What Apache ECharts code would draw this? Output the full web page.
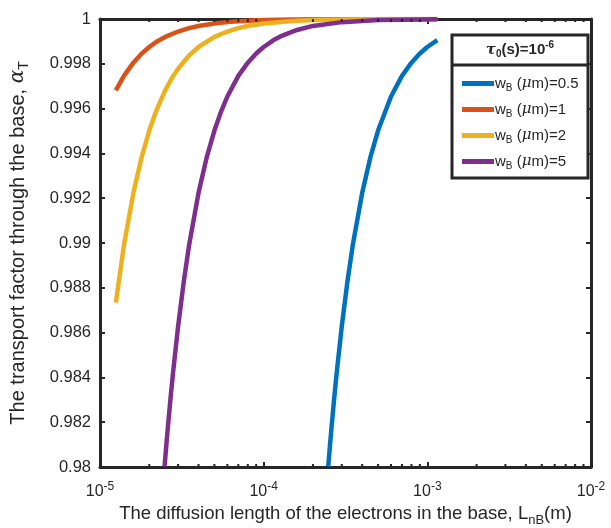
<!DOCTYPE html>
<html><head><meta charset="utf-8">
<script src="https://cdn.jsdelivr.net/npm/echarts@6/dist/echarts.min.js"></script>
<style>html,body{margin:0;padding:0;background:#fff}#c{width:611px;height:528px}</style>
</head><body><div id="c"></div>
<script>
// ---- data ----
const seriesLabels = ['0.5', '1', '2', '5'];
const xTickLabels = ['10^-5', '10^-4', '10^-3', '10^-2'];
const yTicks = [0.98, 0.982, 0.984, 0.986, 0.988, 0.99, 0.992, 0.994, 0.996, 0.998, 1];

const blueL = [2.48e-4, 2.55e-4, 2.6e-4, 2.7e-4, 2.8e-4, 3e-4, 3.25e-4, 3.5e-4, 4e-4, 4.5e-4, 5e-4, 6e-4, 7e-4, 8e-4, 9e-4, 1e-3, 1.15e-3];
const blueA = [0.98002, 0.98108, 0.98180, 0.98310, 0.98427, 0.98627, 0.98828, 0.98989, 0.99224, 0.99386, 0.99502, 0.99654, 0.99746, 0.99805, 0.99846, 0.99875, 0.99906];

const orangeL = [1.25e-5, 1.4e-5, 1.6e-5, 1.8e-5, 2e-5, 2.2e-5, 2.5e-5, 3e-5, 3.5e-5, 4e-5, 5e-5, 6e-5, 7e-5, 1e-4, 2e-4, 5e-4, 1.15e-3];
const orangeA = [0.99681, 0.99746, 0.99805, 0.99846, 0.99875, 0.99897, 0.9992, 0.99944, 0.99959, 0.99969, 0.9998, 0.99986, 0.9999, 0.99995, 0.99999, 1.0, 1.0];

const yellowL = [1.25e-5, 1.4e-5, 1.6e-5, 1.8e-5, 2e-5, 2.2e-5, 2.5e-5, 2.8e-5, 3e-5, 3.5e-5, 4e-5, 5e-5, 6e-5, 7e-5, 8e-5, 1e-4, 1.5e-4, 2e-4, 3e-4, 5e-4, 1.15e-3];
const yellowA = [0.98734, 0.98989, 0.99224, 0.99386, 0.99502, 0.99588, 0.99681, 0.99746, 0.99778, 0.99837, 0.99875, 0.9992, 0.99944, 0.99959, 0.99969, 0.9998, 0.99991, 0.99995, 0.99998, 0.99999, 1.0];

const purpleL = [2.48e-5, 2.55e-5, 2.6e-5, 2.7e-5, 2.8e-5, 3e-5, 3.25e-5, 3.5e-5, 4e-5, 4.5e-5, 5e-5, 5.5e-5, 6e-5, 7e-5, 8e-5, 9e-5, 1e-4, 1.15e-4, 1.3e-4, 1.6e-4, 2e-4, 3e-4, 5e-4, 7e-4, 1.15e-3];
const purpleA = [0.98002, 0.98108, 0.98180, 0.98310, 0.98427, 0.98627, 0.98828, 0.98989, 0.99224, 0.99386, 0.99502, 0.99588, 0.99654, 0.99746, 0.99805, 0.99846, 0.99875, 0.99906, 0.99926, 0.99951, 0.99969, 0.99986, 0.99995, 0.99997, 0.99999];

// ---- chart ----
const FONT = 'Liberation Sans, Arial, Helvetica, sans-serif';
const AX = '#262626';
const colors = ['#0072BD', '#D95319', '#EDB120', '#7E2F8E'];
const zip = (a, b) => a.map((v, i) => [v, b[i]]);
const seriesData = [zip(blueL, blueA), zip(orangeL, orangeA), zip(yellowL, yellowA), zip(purpleL, purpleA)];
const names = seriesLabels.map(s => 'wB=' + s);

const chart = echarts.init(document.getElementById('c'), null, {renderer: 'canvas'});

const axisCommonY = {
  type: 'value', min: 0.98, max: 1, interval: 0.002,
  axisLine: {show: true, lineStyle: {color: AX, width: 3}},
  axisTick: {show: true, inside: true, length: 5, lineStyle: {color: AX, width: 2}},
  splitLine: {show: false}
};
const axisCommonX = {
  type: 'log', logBase: 10, min: 1e-5, max: 1e-2,
  axisLine: {show: true, lineStyle: {color: AX, width: 3}},
  axisTick: {show: true, inside: true, length: 5, lineStyle: {color: AX, width: 2}},
  splitLine: {show: false}
};

const option = {
  animation: false,
  backgroundColor: '#fff',
  textStyle: {fontFamily: FONT},
  grid: {left: 100, right: 20, top: 19, bottom: 61, containLabel: false, outerBoundsMode: 'none'},
  xAxis: [
    Object.assign({}, axisCommonX, {
      position: 'bottom',
      name: 'The diffusion length of the electrons in the base, L{sub|nB}(m)',
      nameLocation: 'middle', nameGap: 34,
      nameTextStyle: {fontSize: 18.5, color: AX, fontFamily: FONT,
        rich: {sub: {fontSize: 13, color: AX, fontFamily: FONT, padding: [12, 0, 0, 0]}}},
      axisLabel: {
        margin: 14, color: AX, fontSize: 16, fontFamily: FONT,
        formatter: v => { const e = Math.round(Math.log10(v)); return '{b|10}{s|' + e + '}'; },
        rich: {b: {fontSize: 16, color: AX, fontFamily: FONT},
               s: {fontSize: 12, color: AX, fontFamily: FONT, padding: [0, 0, 10, 0]}}
      }
    }),
    Object.assign({}, axisCommonX, {position: 'top', axisLabel: {show: false}})
  ],
  yAxis: [
    Object.assign({}, axisCommonY, {
      position: 'left',
      name: 'The transport factor through the base, {i|α}{sub|T}',
      nameLocation: 'middle', nameGap: 69,
      nameTextStyle: {fontSize: 20, color: AX, fontFamily: FONT,
        rich: {i: {fontSize: 20, color: AX, fontStyle: 'italic', fontFamily: 'DejaVu Serif'},
               sub: {fontSize: 14, color: AX, fontFamily: FONT, padding: [12, 0, 0, 0]}}},
      axisLabel: {margin: 9, color: AX, fontSize: 16.5, fontFamily: FONT,
        formatter: v => String(parseFloat(v.toFixed(3)))}
    }),
    Object.assign({}, axisCommonY, {position: 'right', axisLabel: {show: false}})
  ],
  legend: {
    show: true, orient: 'vertical', left: 457, top: 71, itemGap: 9,
    itemWidth: 32, itemHeight: 5, icon: 'rect', z: 10,
    data: names,
    formatter: n => '{w|w}{sub|B} {p|(}{mu|μ}{p|m)=' + n.split('=')[1] + '}',
    textStyle: {fontSize: 15, color: AX, fontFamily: FONT, padding: [0, 0, 0, -4],
      rich: {w: {fontSize: 15, color: AX, fontFamily: FONT},
             sub: {fontSize: 10, color: AX, fontFamily: FONT, padding: [9, 0, 0, 0]},
             p: {fontSize: 15, color: AX, fontFamily: FONT},
             mu: {fontSize: 15, color: AX, fontStyle: 'italic', fontFamily: 'DejaVu Serif'}}}
  },
  series: seriesData.map((d, i) => ({
    type: 'line', name: names[i], data: d, xAxisIndex: 0, yAxisIndex: 0,
    showSymbol: false, smooth: false, clip: true,
    lineStyle: {color: colors[i], width: 4.5, join: 'round'}, itemStyle: {color: colors[i]},
    z: 2
  }))
};
chart.setOption(option);

// minor log ticks + legend box, positioned through the axis scale
const g = [];
const yBot = chart.convertToPixel({yAxisIndex: 0}, 0.98);
const yTop = chart.convertToPixel({yAxisIndex: 0}, 1);
for (let e = -5; e < -2; e++) {
  for (let m = 2; m <= 9; m++) {
    const x = chart.convertToPixel({xAxisIndex: 0}, m * Math.pow(10, e));
    g.push({type: 'line', z: 5, shape: {x1: x, y1: yBot, x2: x, y2: yBot - 3}, style: {stroke: AX, lineWidth: 2}});
    g.push({type: 'line', z: 5, shape: {x1: x, y1: yTop, x2: x, y2: yTop + 3}, style: {stroke: AX, lineWidth: 2}});
  }
}
g.push({type: 'rect', z: 1, shape: {x: 452, y: 35, width: 136, height: 143}, style: {fill: '#fff', stroke: AX, lineWidth: 3}});
g.push({type: 'line', z: 1, shape: {x1: 452, y1: 65, x2: 588, y2: 65}, style: {stroke: AX, lineWidth: 3}});
g.push({type: 'text', z: 3, x: 520, y: 50, style: {
  text: '{t|τ}{s|0}{b|(s)=10}{e|-6}', align: 'center', verticalAlign: 'middle',
  rich: {t: {fontSize: 15, fontStyle: 'italic', fontWeight: 'bold', fontFamily: 'DejaVu Serif', fill: AX},
         s: {fontSize: 10, fontWeight: 'bold', fontFamily: FONT, fill: AX, padding: [9, 0, 0, 0]},
         b: {fontSize: 15, fontWeight: 'bold', fontFamily: FONT, fill: AX},
         e: {fontSize: 10, fontWeight: 'bold', fontFamily: FONT, fill: AX, padding: [0, 0, 9, 0]}}
}});
chart.setOption({graphic: g});
</script>
</body></html>
